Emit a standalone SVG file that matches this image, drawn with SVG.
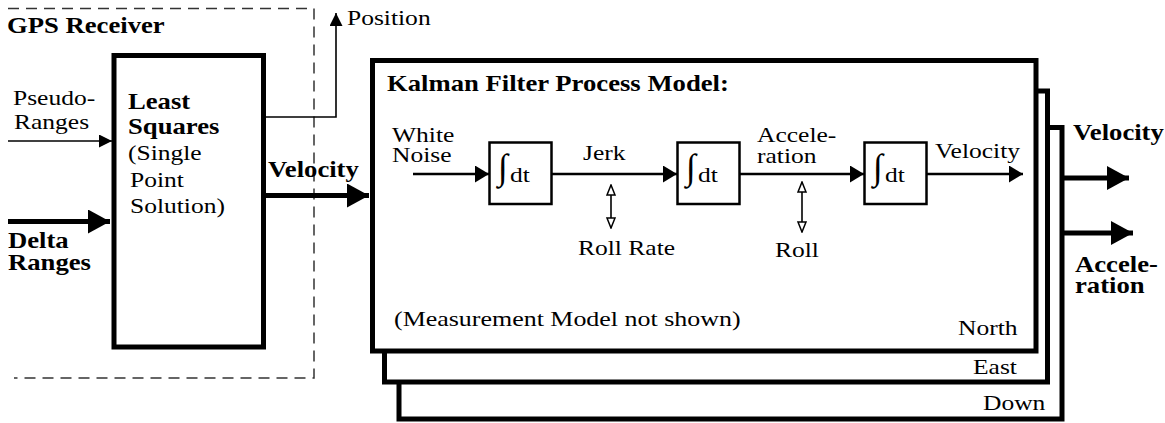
<svg xmlns="http://www.w3.org/2000/svg" width="1165" height="423" viewBox="0 0 1165 423">
  <style>
    .t { font-size: 22px; }
    .b { font-size: 23px; font-weight: bold; }
    .int { font-size: 36px; }
    .thin { stroke: #000; stroke-width: 1.6; fill: none; }
    .sig { stroke: #000; stroke-width: 2.5; fill: none; }
    .thick { stroke: #000; stroke-width: 5; fill: none; }
    .blk { stroke: #000; stroke-width: 5; fill: #fff; }
    .intbox { stroke: #000; stroke-width: 2.5; fill: #fff; }
    .dash { stroke: #333; stroke-width: 1.5; fill: none; stroke-dasharray: 11 7; }
  </style>
  <defs>
    <marker id="ahSmall" markerUnits="userSpaceOnUse" markerWidth="14" markerHeight="14" refX="13" refY="6.5" orient="auto">
      <path d="M0,0 L13,6.5 L0,13 z" fill="#000"/>
    </marker>
    <marker id="ahSig" markerUnits="userSpaceOnUse" markerWidth="15" markerHeight="18" refX="14" refY="8.5" orient="auto">
      <path d="M0,0 L14,8.5 L0,17 z" fill="#000"/>
    </marker>
    <marker id="ahBig" markerUnits="userSpaceOnUse" markerWidth="23" markerHeight="25" refX="22" refY="12" orient="auto">
      <path d="M0,0 L22,12 L0,24 z" fill="#000"/>
    </marker>
    <marker id="ahHollow" markerUnits="userSpaceOnUse" markerWidth="12" markerHeight="14" refX="11" refY="5" orient="auto-start-reverse">
      <path d="M1,1 L11,5 L1,9 z" fill="#fff" stroke="#000" stroke-width="1.5"/>
    </marker>
  </defs>

  <!-- GPS receiver boundary (open on the left) -->
  <g id="gps-receiver">
    <path class="dash" d="M8,8.5 H314 V378 H14"/>
    <text font-family="Liberation Serif" class="b" transform="translate(7 33) scale(1.16 1)">GPS Receiver</text>
  </g>

  <!-- Least squares solver -->
  <g id="least-squares">
    <rect class="blk" x="114" y="55.5" width="149.5" height="291.5"/>
    <text font-family="Liberation Serif" class="b" transform="translate(128 109) scale(1.16 1)">Least</text>
    <text font-family="Liberation Serif" class="b" transform="translate(128 134) scale(1.16 1)">Squares</text>
    <text font-family="Liberation Serif" class="t" transform="translate(128 160) scale(1.16 1)">(Single</text>
    <text font-family="Liberation Serif" class="t" transform="translate(130 187) scale(1.16 1)">Point</text>
    <text font-family="Liberation Serif" class="t" transform="translate(130 213) scale(1.16 1)">Solution)</text>
  </g>

  <!-- Input labels -->
  <g id="inputs">
    <text font-family="Liberation Serif" class="t" transform="translate(13 105) scale(1.16 1)">Pseudo-</text>
    <text font-family="Liberation Serif" class="t" transform="translate(14 129) scale(1.16 1)">Ranges</text>
    <text font-family="Liberation Serif" class="b" transform="translate(8 248) scale(1.16 1)">Delta</text>
    <text font-family="Liberation Serif" class="b" transform="translate(8 270) scale(1.16 1)">Ranges</text>
  </g>

  <!-- Stacked per-axis filter models -->
  <g id="kalman-down">
    <rect class="blk" x="399" y="127.5" width="663" height="291.5"/>
    <text font-family="Liberation Serif" class="t" transform="translate(983 410) scale(1.16 1)">Down</text>
  </g>
  <g id="kalman-east">
    <rect class="blk" x="384.5" y="91" width="663" height="291"/>
    <text font-family="Liberation Serif" class="t" transform="translate(973 374) scale(1.16 1)">East</text>
  </g>
  <g id="kalman-north">
    <rect class="blk" x="372.5" y="60.5" width="663.5" height="290.5"/>
    <text font-family="Liberation Serif" class="b" transform="translate(387 91) scale(1.16 1)">Kalman Filter Process Model:</text>
    <text font-family="Liberation Serif" class="t" transform="translate(394 326) scale(1.18 1)">(Measurement Model not shown)</text>
    <text font-family="Liberation Serif" class="t" transform="translate(958 335) scale(1.16 1)">North</text>
  </g>

  <!-- Integrator chain -->
  <g id="int-1">
    <rect class="intbox" x="489.5" y="142.5" width="62" height="61.5"/>
    <text font-family="Liberation Serif" class="int" x="498" y="179">∫</text>
    <text font-family="Liberation Serif" class="t" transform="translate(510 182) scale(1.16 1)">dt</text>
  </g>
  <g id="int-2">
    <rect class="intbox" x="677.5" y="142.5" width="62" height="61.5"/>
    <text font-family="Liberation Serif" class="int" x="686" y="179">∫</text>
    <text font-family="Liberation Serif" class="t" transform="translate(698 182) scale(1.16 1)">dt</text>
  </g>
  <g id="int-3">
    <rect class="intbox" x="864.5" y="142.5" width="62" height="61.5"/>
    <text font-family="Liberation Serif" class="int" x="873" y="179">∫</text>
    <text font-family="Liberation Serif" class="t" transform="translate(885 182) scale(1.16 1)">dt</text>
  </g>

  <!-- Signal labels -->
  <g id="signal-labels">
    <text font-family="Liberation Serif" class="t" transform="translate(392 142) scale(1.16 1)">White</text>
    <text font-family="Liberation Serif" class="t" transform="translate(392 162) scale(1.16 1)">Noise</text>
    <text font-family="Liberation Serif" class="t" transform="translate(583 160) scale(1.16 1)">Jerk</text>
    <text font-family="Liberation Serif" class="t" transform="translate(757 142) scale(1.16 1)">Accele-</text>
    <text font-family="Liberation Serif" class="t" transform="translate(757 163) scale(1.16 1)">ration</text>
    <text font-family="Liberation Serif" class="t" transform="translate(935 158) scale(1.16 1)">Velocity</text>
    <text font-family="Liberation Serif" class="t" transform="translate(578 255) scale(1.16 1)">Roll Rate</text>
    <text font-family="Liberation Serif" class="t" transform="translate(775 257) scale(1.16 1)">Roll</text>
    <text font-family="Liberation Serif" class="t" transform="translate(347 25) scale(1.16 1)">Position</text>
    <text font-family="Liberation Serif" class="b" transform="translate(268 177) scale(1.16 1)">Velocity</text>
    <text font-family="Liberation Serif" class="b" transform="translate(1073 140) scale(1.16 1)">Velocity</text>
    <text font-family="Liberation Serif" class="b" transform="translate(1075 272) scale(1.16 1)">Accele-</text>
    <text font-family="Liberation Serif" class="b" transform="translate(1075 293) scale(1.16 1)">ration</text>
  </g>

  <!-- Connectors -->
  <g id="connectors">
    <line class="thin" x1="8" y1="141" x2="112" y2="141" marker-end="url(#ahSmall)"/>
    <line class="thick" x1="8" y1="221.5" x2="110" y2="221.5" marker-end="url(#ahBig)"/>
    <polyline class="thin" points="266,117 336,117 336,13" marker-end="url(#ahSmall)"/>
    <line class="thick" x1="266" y1="195.5" x2="369" y2="195.5" marker-end="url(#ahBig)"/>
    <line class="sig" x1="413" y1="174" x2="489" y2="174" marker-end="url(#ahSig)"/>
    <line class="sig" x1="552" y1="174" x2="677" y2="174" marker-end="url(#ahSig)"/>
    <line class="sig" x1="740" y1="174" x2="864" y2="174" marker-end="url(#ahSig)"/>
    <line class="sig" x1="927" y1="174" x2="1023" y2="174" marker-end="url(#ahSig)"/>
    <line class="thin" x1="611" y1="185" x2="611" y2="228" marker-start="url(#ahHollow)" marker-end="url(#ahHollow)"/>
    <line class="thin" x1="802" y1="182" x2="802" y2="232" marker-start="url(#ahHollow)" marker-end="url(#ahHollow)"/>
    <line class="thick" x1="1064" y1="178" x2="1129" y2="178" marker-end="url(#ahBig)"/>
    <line class="thick" x1="1064" y1="233" x2="1133" y2="233" marker-end="url(#ahBig)"/>
  </g>
</svg>
